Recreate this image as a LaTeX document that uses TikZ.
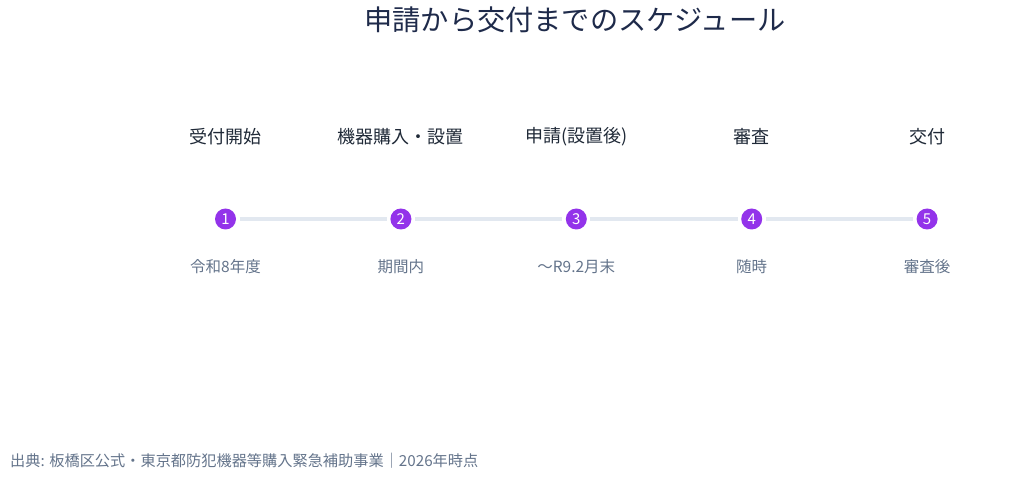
\documentclass[tikz,border=0pt]{standalone}
\usepackage{fontspec}
\setmainfont{Noto Sans CJK JP}
\usepackage{tikz}
\usetikzlibrary{positioning}

\definecolor{titlecol}{HTML}{1E2A4A}
\definecolor{stepcol}{HTML}{1F2937}
\definecolor{notecol}{HTML}{64748B}
\definecolor{dotcol}{HTML}{9333EA}
\definecolor{trackcol}{HTML}{E2E8F0}

\begin{document}
\begin{tikzpicture}[x=1pt,y=-1pt,
    stage/.style={text=stepcol,font=\fontsize{18}{22}\selectfont},
    when/.style={text=notecol,font=\fontsize{15.5}{18}\selectfont},
    dot/.style={circle,fill=dotcol,text=white,minimum size=21pt,inner sep=0pt,outer sep=3.5pt,font=\fontsize{15}{17}\selectfont},
    track/.style={trackcol,line width=4pt}]
  \useasboundingbox (0,0) rectangle (1024,478);

  \node at (575,20) [text=titlecol,font=\fontsize{28.2}{32}\selectfont] (title) {
    申請から交付までのスケジュール
  };

  \node at (225.5,219) [dot] (s1) {1};
  \node at (400.9,219) [dot] (s2) {2};
  \node at (576.3,219) [dot] (s3) {3};
  \node at (751.7,219) [dot] (s4) {4};
  \node at (927.1,219) [dot] (s5) {5};

  \draw[track] (s1) -- (s2);
  \draw[track] (s2) -- (s3);
  \draw[track] (s3) -- (s4);
  \draw[track] (s4) -- (s5);

  \node at (225.5,137) [stage] (apply) {受付開始};
  \node at (400.9,137) [stage] (install) {機器購入・設置};
  \node at (576.3,137) [stage] (request) {申請(設置後)};
  \node at (751.7,137) [stage] (review) {審査};
  \node at (927.1,137) [stage] (grant) {交付};

  \node at (225.5,267) [when] (apply-when) {令和8年度};
  \node at (400.9,267) [when] (install-when) {期間内};
  \node at (576.3,267) [when] (request-when) {～R9.2月末};
  \node at (751.7,267) [when] (review-when) {随時};
  \node at (927.1,267) [when] (grant-when) {審査後};

  \node at (10,461) [anchor=west,inner sep=0pt,text=notecol,font=\fontsize{15.2}{18}\selectfont] (source) {
    出典: 板橋区公式・東京都防犯機器等購入緊急補助事業｜2026年時点
  };
\end{tikzpicture}
\end{document}
